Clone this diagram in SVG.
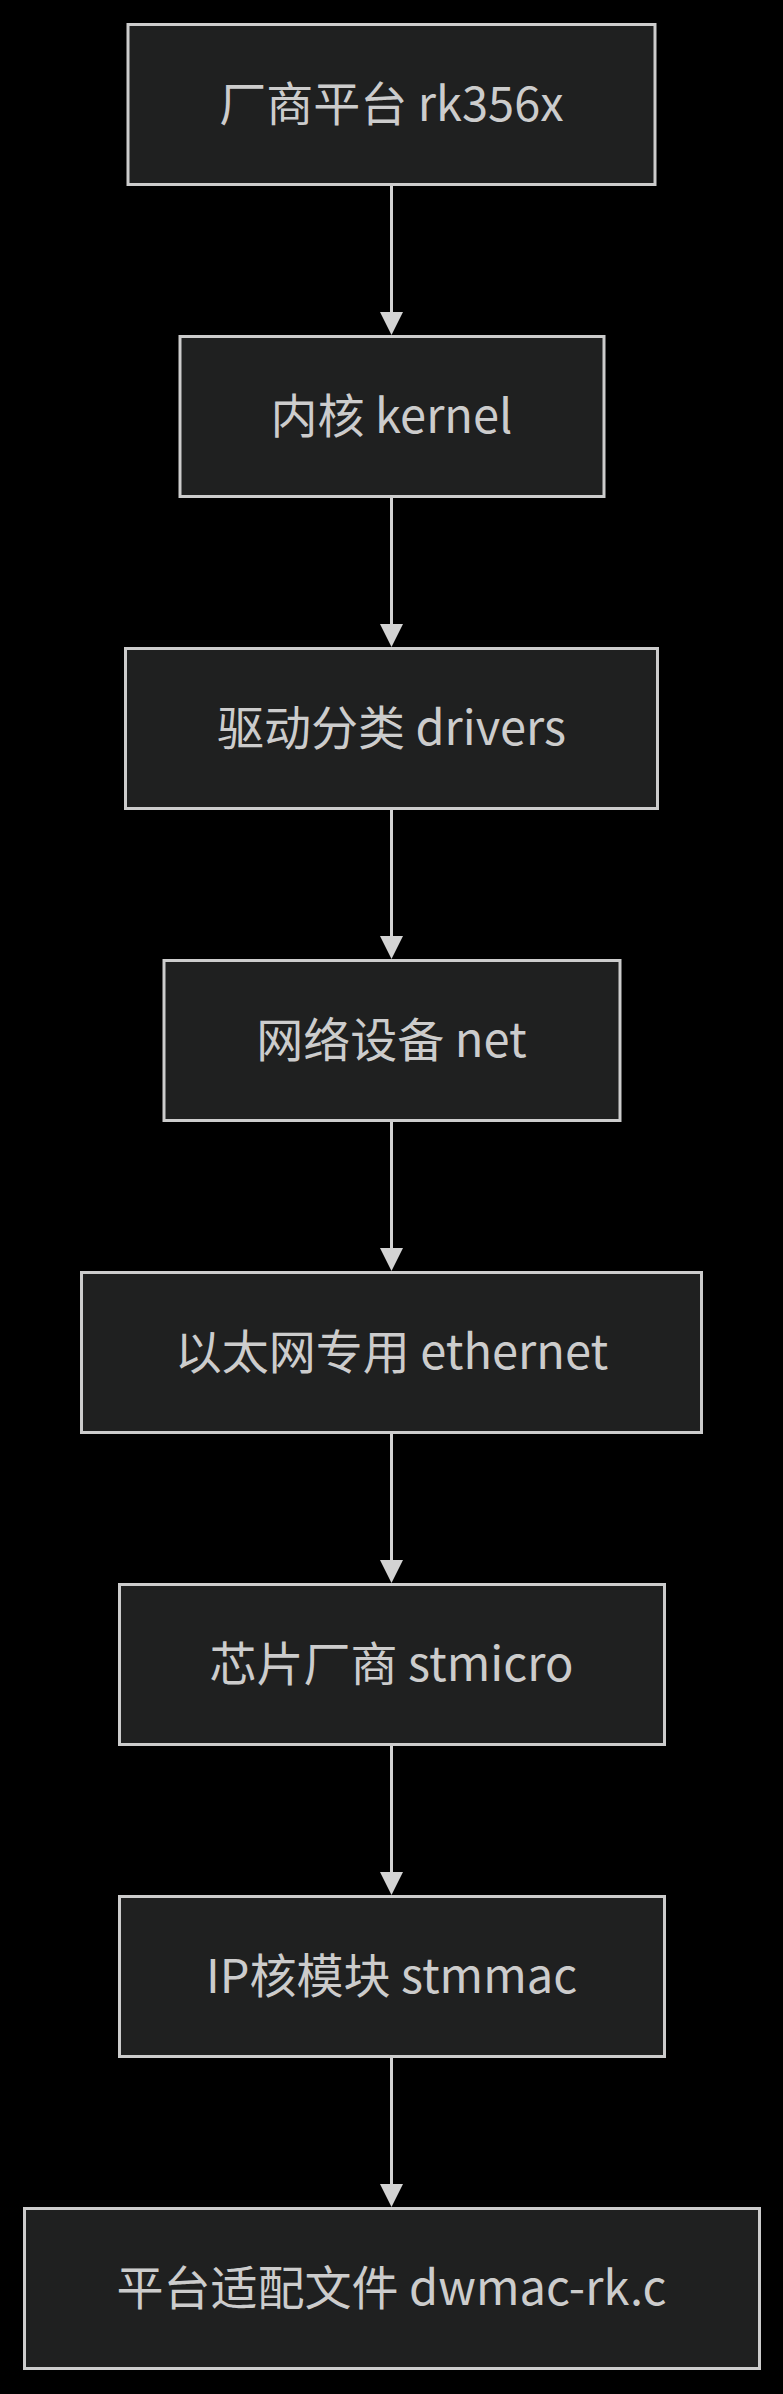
<svg xmlns="http://www.w3.org/2000/svg" width="783" height="2394" viewBox="0 0 783 2394">
<defs>
<style>
.bg{fill:#000000}
.node rect{fill:#1f2020;stroke:#cccccc;stroke-width:3}
.node text{fill:#cccccc;font-family:"Noto Sans CJK SC","Noto Sans",sans-serif;font-size:47px;text-anchor:middle}
.edge{stroke:#d3d3d3;stroke-width:3;fill:none}
.head{fill:#d3d3d3}
</style>
</defs>
<rect class="bg" x="0" y="0" width="783" height="2394"/>
<g id="connectors">
<line class="edge" x1="391.5" y1="186" x2="391.5" y2="314"/>
<polygon class="head" points="380,312 403,312 391.5,335"/>
<line class="edge" x1="391.5" y1="498" x2="391.5" y2="626"/>
<polygon class="head" points="380,624 403,624 391.5,647"/>
<line class="edge" x1="391.5" y1="810" x2="391.5" y2="938"/>
<polygon class="head" points="380,936 403,936 391.5,959"/>
<line class="edge" x1="391.5" y1="1122" x2="391.5" y2="1250"/>
<polygon class="head" points="380,1248 403,1248 391.5,1271"/>
<line class="edge" x1="391.5" y1="1434" x2="391.5" y2="1562"/>
<polygon class="head" points="380,1560 403,1560 391.5,1583"/>
<line class="edge" x1="391.5" y1="1746" x2="391.5" y2="1874"/>
<polygon class="head" points="380,1872 403,1872 391.5,1895"/>
<line class="edge" x1="391.5" y1="2058" x2="391.5" y2="2186"/>
<polygon class="head" points="380,2184 403,2184 391.5,2207"/>
</g>
<g id="n1" class="node"><rect x="128" y="24.5" width="527" height="160"/><text x="391.5" y="121">厂商平台 rk356x</text></g>
<g id="n2" class="node"><rect x="180" y="336.5" width="424" height="160"/><text x="391.5" y="433">内核 kernel</text></g>
<g id="n3" class="node"><rect x="125.5" y="648.5" width="532" height="160"/><text x="391.5" y="745">驱动分类 drivers</text></g>
<g id="n4" class="node"><rect x="164" y="960.5" width="456" height="160"/><text x="391.5" y="1057">网络设备 net</text></g>
<g id="n5" class="node"><rect x="81.5" y="1272.5" width="620" height="160"/><text x="391.5" y="1369">以太网专用 ethernet</text></g>
<g id="n6" class="node"><rect x="119.5" y="1584.5" width="545" height="160"/><text x="391.5" y="1681">芯片厂商 stmicro</text></g>
<g id="n7" class="node"><rect x="119.5" y="1896.5" width="545" height="160"/><text x="391.5" y="1993">IP核模块 stmmac</text></g>
<g id="n8" class="node"><rect x="24.5" y="2208.5" width="735" height="160"/><text x="391.5" y="2305">平台适配文件 dwmac-rk.c</text></g>
</svg>
